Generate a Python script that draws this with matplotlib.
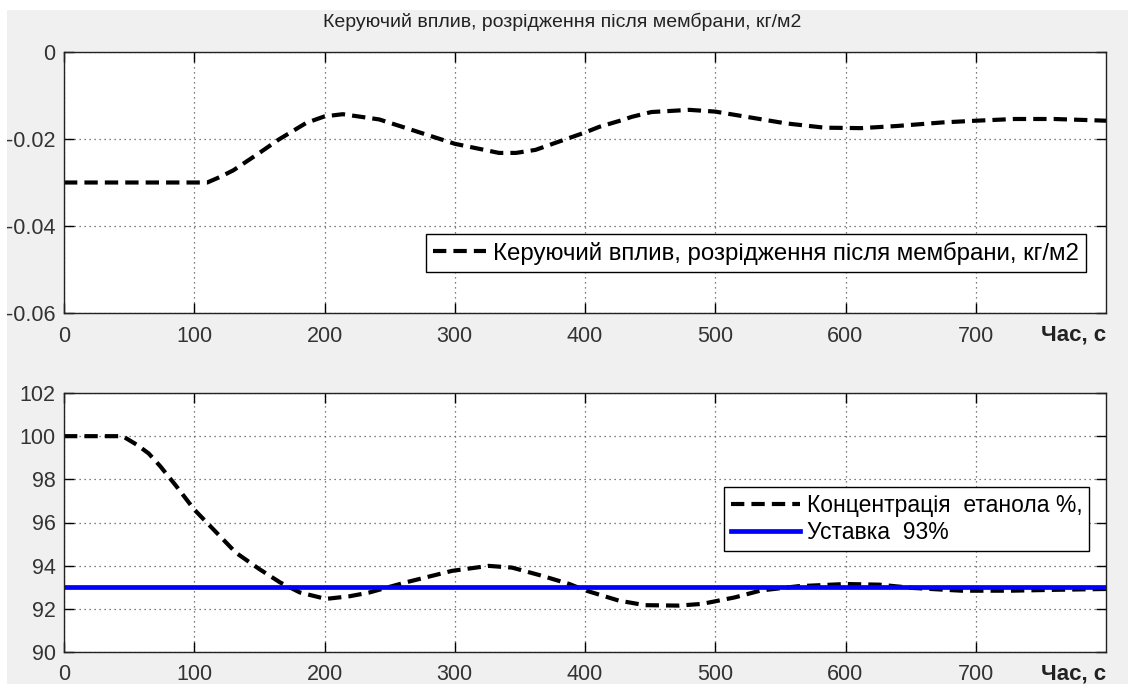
import matplotlib
matplotlib.use("Agg")
import matplotlib.pyplot as plt
from matplotlib.patches import Rectangle

plt.rcParams['font.family'] = ['Liberation Sans', 'DejaVu Sans']

# top plot: control action (vacuum after membrane), kg/m2
t_u = [0, 110, 120, 130, 150, 165, 186, 200, 214, 242, 268, 300, 334, 347, 362, 380,
       400, 411, 428, 436, 451, 480, 500, 526, 554, 584, 612, 640, 674, 700, 730,
       760, 791, 800]
u = [-0.030, -0.030, -0.0287, -0.0272, -0.0232, -0.0201, -0.0163, -0.0148, -0.0143,
     -0.0155, -0.0180, -0.0211, -0.0232, -0.0232, -0.0225, -0.0206,
     -0.0185, -0.0172, -0.0157, -0.0149, -0.0138, -0.0133, -0.0137, -0.0150, -0.0164,
     -0.0174, -0.0175, -0.0170, -0.0162, -0.0158, -0.0154, -0.0154, -0.0157, -0.0158]

# bottom plot: ethanol concentration, %
t_c = [0, 45, 56, 65, 74, 86, 100, 112, 132, 150, 166, 181, 201, 219, 234, 262, 298,
       326, 344, 367, 388, 400, 426, 446, 472, 490, 515, 535, 564, 600, 626, 651,
       689, 727, 760, 800]
c = [100.0, 100.0, 99.6, 99.2, 98.6, 97.7, 96.6, 95.85, 94.6, 93.84, 93.22, 92.76,
     92.46, 92.58, 92.75, 93.22, 93.76, 93.99, 93.91, 93.53, 93.15, 92.86, 92.38,
     92.17, 92.15, 92.23, 92.53, 92.85, 93.05, 93.15, 93.12, 92.97, 92.84, 92.84,
     92.88, 92.92]
setpoint = 93

title = "Керуючий вплив, розрідження після мембрани, кг/м2"
label_u = "Керуючий вплив, розрідження після мембрани, кг/м2"
label_c = "Концентрація  етанола %,"
label_sp = "Уставка  93%"
xticks = [0, 100, 200, 300, 400, 500, 600, 700]

fig = plt.figure(figsize=(11.28, 6.84), dpi=100, facecolor='white')
# gray figure area (white strip at top and left like the screenshot)
fig.patches.append(Rectangle((7 / 1128, 0), 1, 1 - 10 / 684, transform=fig.transFigure,
                             facecolor='#f0f0f0', edgecolor='none', zorder=-10))

ax1 = fig.add_axes([64 / 1128, 1 - 313 / 684, 1042 / 1128, 261 / 684])
ax2 = fig.add_axes([64 / 1128, 1 - 652 / 684, 1042 / 1128, 259 / 684])

dash = (3.2, 1.7)
ax1.plot(t_u, u, color='black', lw=3.0, dashes=dash, label=label_u)
ax2.plot(t_c, c, color='black', lw=3.0, dashes=dash, label=label_c)
ax2.axhline(setpoint, color='#0000ff', lw=3.4, label=label_sp)

ax1.set_ylim(-0.06, 0)
ax1.set_yticks([-0.06, -0.04, -0.02, 0])
ax1.set_yticklabels(['-0.06', '-0.04', '-0.02', '0'])
ax2.set_ylim(90, 102)
ax2.set_yticks([90, 92, 94, 96, 98, 100, 102])

for ax in (ax1, ax2):
    ax.set_xlim(0, 800)
    ax.set_xticks(xticks)
    ax.grid(True, linestyle=(0, (1, 3)), color='#555555', lw=0.9)
    ax.tick_params(direction='in', length=7, width=1, top=True, right=True,
                   labelsize=15.5, labelcolor='#333333', pad=6)
    ax.tick_params(axis='x', pad=9)
    for s in ax.spines.values():
        s.set_linewidth(1.0)
        s.set_color('#222222')
    ax.text(1.0, -0.045, "Час, с", transform=ax.transAxes, ha='right', va='top',
            fontsize=16, color='#222222', fontweight='bold')

fig.text(0.498, 1 - 22 / 684, title, ha='center', va='center', fontsize=14,
         color='#222222')

leg1 = ax1.legend(loc='lower right', bbox_to_anchor=(0.981, 0.157), fontsize=17.3,
                  handlelength=2.2, fancybox=False, framealpha=1,
                  borderpad=0.3, handletextpad=0.3, borderaxespad=0)
leg1.get_frame().set_edgecolor('black')
leg1.get_frame().set_linewidth(1.0)

leg2 = ax2.legend(loc='lower right', bbox_to_anchor=(0.984, 0.39), fontsize=16.5,
                  handlelength=3.0, fancybox=False, framealpha=1,
                  borderpad=0.3, labelspacing=0.2, handletextpad=0.3, borderaxespad=0)
leg2.get_frame().set_edgecolor('black')
leg2.get_frame().set_linewidth(1.0)

fig.savefig("out.png", dpi=100, facecolor=fig.get_facecolor())
